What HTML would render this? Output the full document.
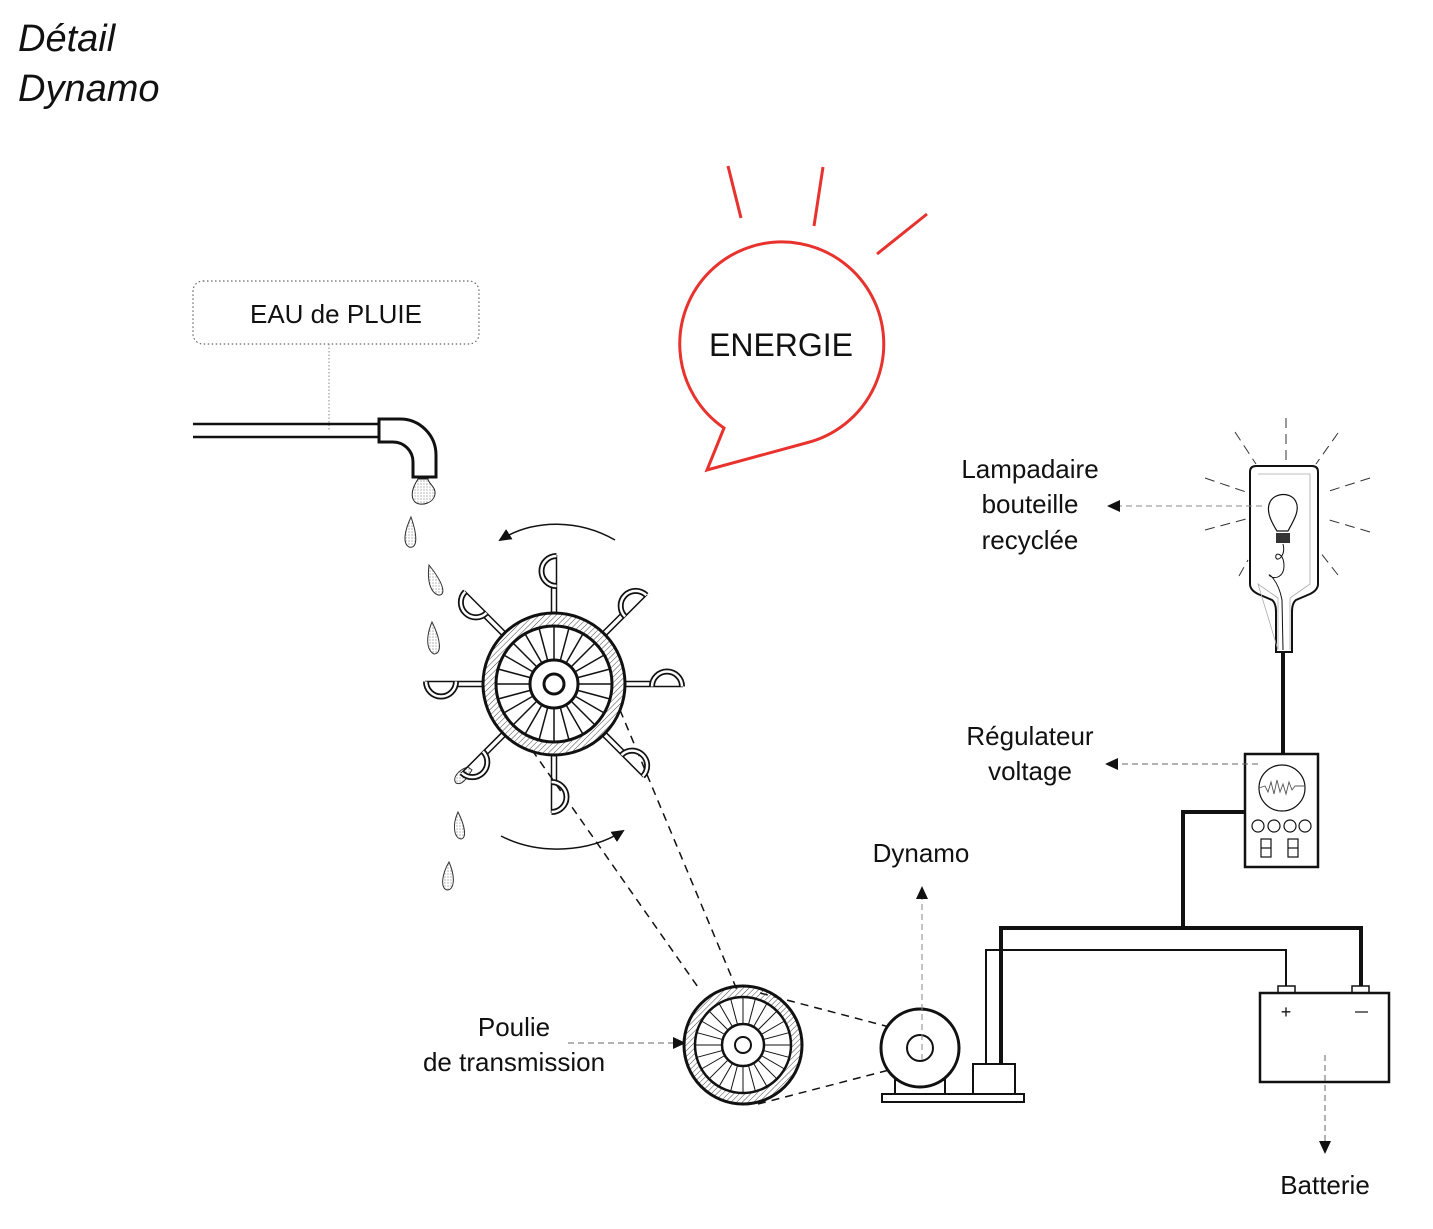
<!DOCTYPE html>
<html><head><meta charset="utf-8"><style>
html,body{margin:0;padding:0;background:#fff}
svg{display:block}
text{font-family:"Liberation Sans",sans-serif;fill:#111}
</style></head><body>
<svg width="1433" height="1229" viewBox="0 0 1433 1229" xmlns="http://www.w3.org/2000/svg">
<defs>
<pattern id="h" width="4" height="4" patternUnits="userSpaceOnUse" patternTransform="rotate(45)">
<line x1="0" y1="0" x2="0" y2="4" stroke="#444" stroke-width="1"/></pattern>
<pattern id="dots" width="3" height="3" patternUnits="userSpaceOnUse">
<circle cx="1" cy="1" r="0.6" fill="#888"/></pattern>
<marker id="ar" markerWidth="13" markerHeight="12" refX="11" refY="6" orient="auto" markerUnits="userSpaceOnUse">
<path d="M0,0 L13,6 L0,12 z" fill="#111"/></marker>
<g id="bucket">
<line x1="551.5" y1="613" x2="551.5" y2="585" stroke="#111" stroke-width="1.5"/>
<line x1="556.5" y1="613" x2="556.5" y2="555" stroke="#111" stroke-width="1.5"/>
<path d="M556.5,556 A15,15 0 0 0 556.5,586" fill="none" stroke="#111" stroke-width="6"/>
<path d="M556.5,556 A15,15 0 0 0 556.5,586" fill="none" stroke="#fff" stroke-width="2.5"/>
</g>
</defs>

<text x="18" y="51" font-size="38" font-style="italic">Détail</text>
<text x="18" y="101" font-size="38" font-style="italic">Dynamo</text>

<rect x="193" y="281" width="286" height="63" rx="10" fill="none" stroke="#666" stroke-dasharray="1.5,2.5" stroke-width="1.2"/>
<text x="336" y="323" font-size="26" text-anchor="middle">EAU de PLUIE</text>
<line x1="329" y1="344" x2="329" y2="430" stroke="#888" stroke-dasharray="1.5,2"/>

<line x1="193" y1="424" x2="380" y2="424" stroke="#111" stroke-width="2.5"/>
<line x1="193" y1="437" x2="380" y2="437" stroke="#111" stroke-width="2.5"/>
<path d="M379,419 L400,419 A36,36 0 0 1 436,455 L436,477 L413,477 L413,462 A20,20 0 0 0 393,442 L379,442 Z" fill="#fff" stroke="#111" stroke-width="3"/>
<path d="M418,479 C412,488 410,497 415,502 C421,507 434,503 435,494 C436,487 428,483 428,479 Z" fill="url(#dots)" stroke="#222" stroke-width="1"/>

<g fill="url(#dots)" stroke="#333" stroke-width="1">
<path d="M411,517 C405,530 402,543 409,547 C416,549 419,540 411,517 Z"/>
<path d="M429,565 C427,580 430,592 438,595 C446,596 445,585 429,565 Z"/>
<path d="M432,622 C426,636 426,650 434,654 C442,654 441,640 432,622 Z"/>
<path d="M458,812 C452,825 454,838 461,839 C467,838 465,826 458,812 Z"/>
<path d="M449,862 C442,874 440,888 447,890 C454,890 456,878 449,862 Z"/>
<path d="M468,767 C458,770 452,778 456,783 C462,786 467,778 472,770 Z"/>
</g>

<path d="M724,428 A102,102 0 1 1 806,443 L707,470 Z" fill="none" stroke="#e8322e" stroke-width="3" stroke-linejoin="miter"/>
<line x1="728" y1="166" x2="741" y2="218" stroke="#e8322e" stroke-width="3"/>
<line x1="823" y1="167" x2="814" y2="226" stroke="#e8322e" stroke-width="3"/>
<line x1="927" y1="214" x2="877" y2="254" stroke="#e8322e" stroke-width="3"/>
<text x="781" y="356" font-size="32" text-anchor="middle">ENERGIE</text>

<path d="M615,540 C580,520 535,518 500,540" fill="none" stroke="#111" stroke-width="1.5" marker-end="url(#ar)"/>
<path d="M501,836 C540,856 590,852 623,831" fill="none" stroke="#111" stroke-width="1.5" marker-end="url(#ar)"/>

<g stroke="#111" stroke-width="1.5" stroke-dasharray="8,6" fill="none">
<line x1="532" y1="750" x2="700" y2="990"/>
<line x1="620" y1="710" x2="737" y2="990"/>
<line x1="760" y1="993" x2="920" y2="1035"/>
<line x1="758" y1="1104" x2="920" y2="1062"/>
</g>

<g>
<use href="#bucket"/>
<use href="#bucket" transform="rotate(45 554 684)"/>
<use href="#bucket" transform="rotate(90 554 684)"/>
<use href="#bucket" transform="rotate(135 554 684)"/>
<use href="#bucket" transform="rotate(180 554 684)"/>
<use href="#bucket" transform="rotate(225 554 684)"/>
<use href="#bucket" transform="rotate(270 554 684)"/>
<use href="#bucket" transform="rotate(315 554 684)"/>
</g>
<circle cx="554" cy="684" r="71" fill="url(#h)" stroke="#111" stroke-width="3"/>
<circle cx="554" cy="684" r="58" fill="#fff" stroke="#111" stroke-width="3"/>
<g stroke="#111" stroke-width="1.5">
<line x1="554" y1="626" x2="554" y2="742" transform="rotate(0 554 684)"/>
<line x1="554" y1="626" x2="554" y2="742" transform="rotate(15 554 684)"/>
<line x1="554" y1="626" x2="554" y2="742" transform="rotate(30 554 684)"/>
<line x1="554" y1="626" x2="554" y2="742" transform="rotate(45 554 684)"/>
<line x1="554" y1="626" x2="554" y2="742" transform="rotate(60 554 684)"/>
<line x1="554" y1="626" x2="554" y2="742" transform="rotate(75 554 684)"/>
<line x1="554" y1="626" x2="554" y2="742" transform="rotate(90 554 684)"/>
<line x1="554" y1="626" x2="554" y2="742" transform="rotate(105 554 684)"/>
<line x1="554" y1="626" x2="554" y2="742" transform="rotate(120 554 684)"/>
<line x1="554" y1="626" x2="554" y2="742" transform="rotate(135 554 684)"/>
<line x1="554" y1="626" x2="554" y2="742" transform="rotate(150 554 684)"/>
<line x1="554" y1="626" x2="554" y2="742" transform="rotate(165 554 684)"/>
</g>
<circle cx="554" cy="684" r="24" fill="#fff" stroke="#111" stroke-width="3"/>
<circle cx="554" cy="684" r="10" fill="#fff" stroke="#111" stroke-width="3"/>

<circle cx="743" cy="1045" r="59" fill="url(#h)" stroke="#111" stroke-width="3"/>
<circle cx="743" cy="1045" r="48" fill="#fff" stroke="#111" stroke-width="2.5"/>
<g stroke="#111" stroke-width="1">
<line x1="743" y1="997" x2="743" y2="1093" transform="rotate(0 743 1045)"/>
<line x1="743" y1="997" x2="743" y2="1093" transform="rotate(15 743 1045)"/>
<line x1="743" y1="997" x2="743" y2="1093" transform="rotate(30 743 1045)"/>
<line x1="743" y1="997" x2="743" y2="1093" transform="rotate(45 743 1045)"/>
<line x1="743" y1="997" x2="743" y2="1093" transform="rotate(60 743 1045)"/>
<line x1="743" y1="997" x2="743" y2="1093" transform="rotate(75 743 1045)"/>
<line x1="743" y1="997" x2="743" y2="1093" transform="rotate(90 743 1045)"/>
<line x1="743" y1="997" x2="743" y2="1093" transform="rotate(105 743 1045)"/>
<line x1="743" y1="997" x2="743" y2="1093" transform="rotate(120 743 1045)"/>
<line x1="743" y1="997" x2="743" y2="1093" transform="rotate(135 743 1045)"/>
<line x1="743" y1="997" x2="743" y2="1093" transform="rotate(150 743 1045)"/>
<line x1="743" y1="997" x2="743" y2="1093" transform="rotate(165 743 1045)"/>
</g>
<circle cx="743" cy="1045" r="21" fill="#fff" stroke="#111" stroke-width="2.5"/>
<circle cx="743" cy="1045" r="8" fill="#fff" stroke="#111" stroke-width="2"/>
<text x="514" y="1036" font-size="26" text-anchor="middle">Poulie</text>
<text x="514" y="1071" font-size="26" text-anchor="middle">de transmission</text>
<line x1="568" y1="1043" x2="684" y2="1043" stroke="#666" stroke-dasharray="6,4" marker-end="url(#ar)"/>

<rect x="895" y="1080" width="50" height="14" fill="#fff" stroke="#111" stroke-width="2"/>
<circle cx="920" cy="1048" r="39" fill="#fff" stroke="#111" stroke-width="3"/>
<circle cx="920" cy="1048" r="13" fill="#fff" stroke="#111" stroke-width="2"/>
<rect x="882" y="1094" width="142" height="8" fill="#fff" stroke="#111" stroke-width="2"/>
<rect x="973" y="1064" width="42" height="30" fill="#fff" stroke="#111" stroke-width="2"/>
<line x1="922" y1="1060" x2="922" y2="888" stroke="#888" stroke-dasharray="6,4" marker-end="url(#ar)"/>
<text x="921" y="862" font-size="26" text-anchor="middle">Dynamo</text>

<polyline points="1001,1064 1001,928 1361,928 1361,986" fill="none" stroke="#111" stroke-width="4"/>
<polyline points="986,1064 986,950 1286,950 1286,986" fill="none" stroke="#111" stroke-width="2"/>
<polyline points="1183,928 1183,812 1245,812" fill="none" stroke="#111" stroke-width="4"/>
<line x1="1283" y1="650" x2="1283" y2="754" stroke="#111" stroke-width="4"/>

<rect x="1278" y="986" width="17" height="7" fill="#fff" stroke="#111" stroke-width="1.5"/>
<rect x="1352" y="986" width="17" height="7" fill="#fff" stroke="#111" stroke-width="1.5"/>
<rect x="1260" y="993" width="129" height="89" fill="#fff" stroke="#111" stroke-width="2.5"/>
<text x="1286" y="1018" font-size="18" text-anchor="middle">+</text>
<line x1="1355" y1="1012" x2="1368" y2="1012" stroke="#111" stroke-width="1.2"/>
<line x1="1325" y1="1055" x2="1325" y2="1152" stroke="#666" stroke-dasharray="6,4" marker-end="url(#ar)"/>
<text x="1325" y="1194" font-size="26" text-anchor="middle">Batterie</text>

<rect x="1245" y="754" width="73" height="113" fill="#fff" stroke="#111" stroke-width="2.5"/>
<circle cx="1282" cy="788" r="23" fill="none" stroke="#111" stroke-width="1.2"/>
<polyline points="1259,788 1265,786 1268,792 1271,782 1274,794 1277,780 1280,792 1283,784 1286,794 1289,782 1292,790 1295,786 1305,786" fill="none" stroke="#555" stroke-width="0.9"/>
<g fill="none" stroke="#111" stroke-width="1.2">
<circle cx="1258" cy="826" r="6"/><circle cx="1274" cy="826" r="6"/><circle cx="1290" cy="826" r="6"/><circle cx="1305" cy="826" r="6"/>
<rect x="1261" y="839" width="10" height="18"/><line x1="1261" y1="848" x2="1271" y2="848"/>
<rect x="1288" y="839" width="10" height="18"/><line x1="1288" y1="848" x2="1298" y2="848"/>
</g>
<line x1="1258" y1="764" x2="1107" y2="764" stroke="#666" stroke-dasharray="6,4" marker-end="url(#ar)"/>
<text x="1030" y="745" font-size="26" text-anchor="middle">Régulateur</text>
<text x="1030" y="780" font-size="26" text-anchor="middle">voltage</text>

<path d="M1256,466 L1312,466 Q1318,466 1318,472 L1318,584 Q1318,590 1310,594 L1296,600 Q1292,603 1292,612 L1292,652 L1276,652 L1276,612 Q1276,603 1272,600 L1258,594 Q1250,590 1250,584 L1250,472 Q1250,466 1256,466 Z" fill="#fff" stroke="#111" stroke-width="2"/>
<path d="M1258,474 L1310,474 L1310,584 L1290,598 L1290,650 M1278,650 L1278,598 L1258,584 Z" fill="none" stroke="#aaa" stroke-width="0.8"/>
<path d="M1277,531 C1270,520 1266,510 1270,502 C1275,492 1292,492 1296,502 C1300,510 1294,520 1288,531 Z" fill="none" stroke="#111" stroke-width="1.2"/>
<rect x="1276" y="533" width="14" height="10" fill="#333"/>
<path d="M1283,544 C1286,555 1278,562 1276,558 C1274,552 1284,552 1284,566 C1284,576 1276,580 1270,576 C1266,572 1278,578 1282,600 L1283,650" fill="none" stroke="#111" stroke-width="1"/>
<g stroke="#333" stroke-width="1" stroke-dasharray="10,6">
<line x1="1286" y1="418" x2="1286" y2="462"/>
<line x1="1235" y1="432" x2="1256" y2="464"/>
<line x1="1338" y1="433" x2="1316" y2="464"/>
<line x1="1205" y1="478" x2="1246" y2="492"/>
<line x1="1205" y1="530" x2="1246" y2="519"/>
<line x1="1370" y1="478" x2="1326" y2="492"/>
<line x1="1370" y1="532" x2="1326" y2="519"/>
<line x1="1239" y1="576" x2="1248" y2="560"/>
<line x1="1338" y1="575" x2="1320" y2="552"/>
</g>
<line x1="1262" y1="506" x2="1109" y2="506" stroke="#888" stroke-dasharray="6,4" marker-end="url(#ar)"/>
<text x="1030" y="478" font-size="26" text-anchor="middle">Lampadaire</text>
<text x="1030" y="513" font-size="26" text-anchor="middle">bouteille</text>
<text x="1030" y="549" font-size="26" text-anchor="middle">recyclée</text>
</svg>
</body></html>
